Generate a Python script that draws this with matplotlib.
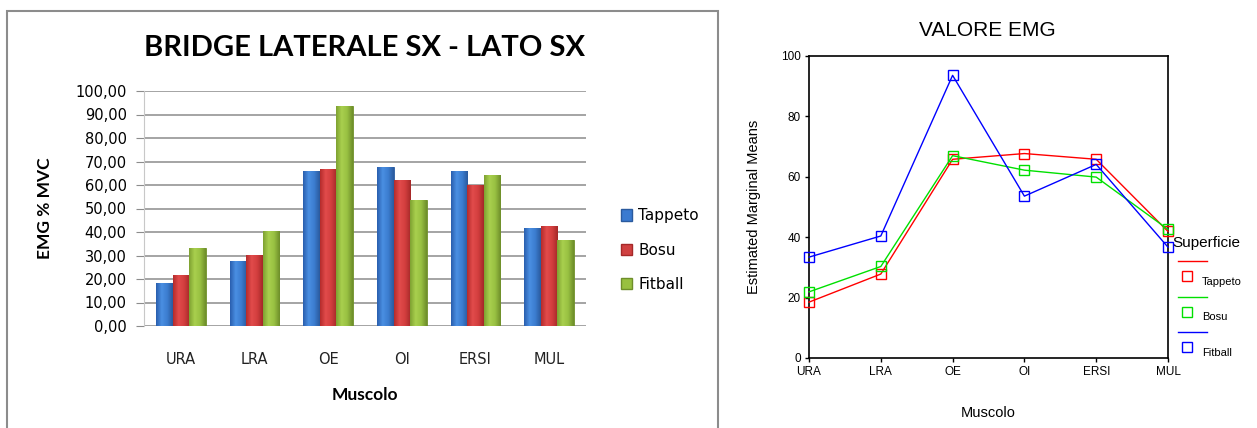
import numpy as np
import matplotlib
matplotlib.use("Agg")
import matplotlib.pyplot as plt
from matplotlib.colors import LinearSegmentedColormap
from matplotlib.patches import Rectangle, Patch
from matplotlib.lines import Line2D

# data
muscoli = ["URA", "LRA", "OE", "OI", "ERSI", "MUL"]
superfici = ["Tappeto", "Bosu", "Fitball"]
tappeto = [18.5, 27.8, 65.8, 67.7, 65.8, 41.9]
bosu = [21.9, 30.3, 67.0, 62.2, 59.9, 42.6]
fitball = [33.4, 40.4, 93.6, 53.6, 64.1, 36.7]
yticks_left = [0, 10, 20, 30, 40, 50, 60, 70, 80, 90, 100]
yticks_right = [0, 20, 40, 60, 80, 100]

W, H = 1257, 428
fig = plt.figure(figsize=(W / 100, H / 100), dpi=100)

def fx(px):
    return px / W

def fy(py):
    return 1 - py / H

# ---------- left: excel style bar chart ----------
fig.patches.append(Rectangle((fx(7), -0.02), fx(718 - 7), fy(11) + 0.02, transform=fig.transFigure,
                             fill=False, edgecolor="#8c8c8c", lw=1.5))

ax1 = fig.add_axes([fx(144), fy(326), fx(586 - 144), fy(91) - fy(326)])
series = [tappeto, bosu, fitball]
grads = [["#2a5fae", "#4a8fe2", "#3c7dd0", "#2a5a9e"],
         ["#b52c2c", "#e24b4b", "#d23e3e", "#a52828"],
         ["#7fa232", "#a9d04e", "#98c042", "#6e8e2a"]]
legcol = ["#3a7ad0", "#d04040", "#98c040"]
x = np.arange(len(muscoli))
bw = 0.225
for i, vals in enumerate(series):
    bars = ax1.bar(x + (i - 1) * bw, vals, bw, color=legcol[i], edgecolor=grads[i][3], lw=0.6, zorder=3)
    cmap = LinearSegmentedColormap.from_list("g%d" % i, grads[i])
    for b in bars:
        x0, w, h = b.get_x(), b.get_width(), b.get_height()
        im = ax1.imshow(np.linspace(0, 1, 50).reshape(1, -1), cmap=cmap, aspect="auto",
                        extent=[x0, x0 + w, 0, h], zorder=3.5)
        im.set_clip_path(b)

ax1.set_xlim(-0.5, len(muscoli) - 0.5)
ax1.set_ylim(0, 100)
ax1.set_yticks(yticks_left)
ax1.set_yticklabels([("%.2f" % v).replace(".", ",") for v in yticks_left], fontsize=10.5, family="DejaVu Sans")
ax1.set_xticks(x)
ax1.set_xticklabels(muscoli, fontsize=10.5, family="DejaVu Sans", color="#222222")
ax1.tick_params(axis="x", length=0, pad=19)
ax1.tick_params(axis="y", length=5.5, color="#8c8c8c", pad=7)
ax1.grid(axis="y", color="#8c8c8c", lw=1.1, zorder=0)
for s in ["top", "right", "bottom"]:
    ax1.spines[s].set_visible(False)
ax1.spines["left"].set_color("#c8c8c8")
ax1.set_axisbelow(True)

fig.text(fx(364), fy(48), "BRIDGE LATERALE SX - LATO SX", ha="center", va="center",
         fontsize=21, fontweight="bold", family="Lato")
fig.text(fx(45), fy(208), "EMG % MVC", rotation=90, ha="center", va="center",
         fontsize=12.5, fontweight="bold", family="Lato")
fig.text(fx(365), fy(395), "Muscolo", ha="center", va="center",
         fontsize=12.5, fontweight="bold", family="Lato")

handles = [Patch(facecolor=legcol[i], edgecolor=grads[i][3]) for i in range(3)]
ax1.legend(handles, superfici, loc="center left", bbox_to_anchor=(fx(613), fy(250)),
           bbox_transform=fig.transFigure, frameon=False, handlelength=0.75,
           handleheight=0.75, handletextpad=0.4, labelspacing=1.25, borderpad=0,
           prop={"family": "DejaVu Sans", "size": 11})

# ---------- right: spss style profile plot ----------
ax2 = fig.add_axes([fx(809), fy(358), fx(1168 - 809), fy(56) - fy(358)])
colors = ["#ff0000", "#00e000", "#0000ff"]
for i, vals in enumerate(series):
    ax2.plot(x, vals, color=colors[i], lw=1.0, marker="s", markersize=6.5, markerfacecolor="none",
             markeredgecolor=colors[i], markeredgewidth=1.0, clip_on=False, zorder=3)
ax2.set_xlim(0, len(muscoli) - 1)
ax2.set_ylim(0, 100)
ax2.set_xticks(x)
ax2.set_xticklabels(muscoli, fontsize=8.5, family="Liberation Sans")
ax2.set_yticks(yticks_right)
ax2.set_yticklabels([str(v) for v in yticks_right], fontsize=8.5, family="Liberation Sans")
ax2.tick_params(length=3, width=1, pad=3)
for s in ax2.spines.values():
    s.set_linewidth(1.2)
ax2.set_xlabel("Muscolo", fontsize=10.5, family="Liberation Sans", labelpad=20)
ax2.set_ylabel("Estimated Marginal Means", fontsize=10.5, family="Liberation Sans", labelpad=14)
fig.text(fx(987), fy(30), "VALORE EMG", ha="center", va="center", fontsize=15, family="Liberation Sans")

fig.text(fx(1172), fy(243), "Superficie", ha="left", va="center", fontsize=11, family="Liberation Sans")
for i, name in enumerate(superfici):
    y0 = 261 + i * 35.5
    fig.lines.append(Line2D([fx(1178), fx(1207)], [fy(y0), fy(y0)], color=colors[i], lw=1.0,
                            transform=fig.transFigure))
    fig.lines.append(Line2D([fx(1187)], [fy(y0 + 15)], marker="s", markersize=6.5, markerfacecolor="none",
                            markeredgecolor=colors[i], transform=fig.transFigure))
    fig.text(fx(1202), fy(y0 + 21), name, ha="left", va="center", fontsize=8, family="Liberation Sans")

fig.savefig("out.png", dpi=100)
